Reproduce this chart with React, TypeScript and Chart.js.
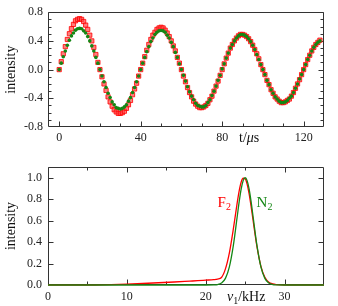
import React, { useEffect, useRef } from "react";
import { Chart, registerables } from "chart.js";
Chart.register(...registerables);

const SERIF = '"Liberation Serif", "DejaVu Serif", serif';

// ---- Top panel: time domain ----
const timeUs = [
  0, 1, 2, 3, 4, 5, 6, 7, 8, 9,
  10, 11, 12, 13, 14, 15, 16, 17, 18, 19,
  20, 21, 22, 23, 24, 25, 26, 27, 28, 29,
  30, 31, 32, 33, 34, 35, 36, 37, 38, 39,
  40, 41, 42, 43, 44, 45, 46, 47, 48, 49,
  50, 51, 52, 53, 54, 55, 56, 57, 58, 59,
  60, 61, 62, 63, 64, 65, 66, 67, 68, 69,
  70, 71, 72, 73, 74, 75, 76, 77, 78, 79,
  80, 81, 82, 83, 84, 85, 86, 87, 88, 89,
  90, 91, 92, 93, 94, 95, 96, 97, 98, 99,
  100, 101, 102, 103, 104, 105, 106, 107, 108, 109,
  110, 111, 112, 113, 114, 115, 116, 117, 118, 119,
  120, 121, 122, 123, 124, 125, 126, 127, 128,
];

const f2Time = [
  0, 0.11, 0.22, 0.32, 0.42, 0.5, 0.57, 0.63, 0.68, 0.7,
  0.71, 0.7, 0.67, 0.62, 0.56, 0.48, 0.4, 0.31, 0.21, 0.1,
  0, -0.1, -0.2, -0.29, -0.38, -0.45, -0.51, -0.56, -0.59, -0.61,
  -0.61, -0.6, -0.58, -0.54, -0.49, -0.43, -0.35, -0.27, -0.19, -0.09,
  0, 0.09, 0.18, 0.27, 0.35, 0.42, 0.48, 0.52, 0.56, 0.58,
  0.59, 0.58, 0.55, 0.51, 0.46, 0.4, 0.33, 0.26, 0.17, 0.09,
  0, -0.09, -0.17, -0.25, -0.32, -0.38, -0.44, -0.48, -0.51, -0.53,
  -0.53, -0.52, -0.5, -0.47, -0.42, -0.37, -0.3, -0.23, -0.16, -0.08,
  0, 0.08, 0.16, 0.23, 0.3, 0.35, 0.4, 0.44, 0.47, 0.49,
  0.49, 0.48, 0.46, 0.43, 0.39, 0.34, 0.28, 0.22, 0.15, 0.07,
  0, -0.07, -0.15, -0.21, -0.28, -0.33, -0.38, -0.41, -0.44, -0.46,
  -0.46, -0.45, -0.43, -0.41, -0.37, -0.32, -0.26, -0.2, -0.14, -0.07,
  0, 0.07, 0.14, 0.2, 0.26, 0.31, 0.35, 0.38, 0.41,
];

const n2Time = [
  0, 0.09, 0.18, 0.26, 0.34, 0.41, 0.47, 0.51, 0.55, 0.57,
  0.575, 0.57, 0.54, 0.51, 0.46, 0.4, 0.33, 0.26, 0.17, 0.09,
  0, -0.09, -0.17, -0.25, -0.33, -0.39, -0.45, -0.49, -0.53, -0.54,
  -0.55, -0.54, -0.52, -0.49, -0.44, -0.39, -0.32, -0.25, -0.17, -0.09,
  0, 0.09, 0.17, 0.25, 0.32, 0.39, 0.44, 0.49, 0.52, 0.54,
  0.545, 0.54, 0.52, 0.48, 0.44, 0.38, 0.32, 0.24, 0.17, 0.08,
  0, -0.08, -0.16, -0.24, -0.31, -0.37, -0.42, -0.47, -0.5, -0.51,
  -0.52, -0.52, -0.5, -0.46, -0.42, -0.36, -0.3, -0.23, -0.15, -0.08,
  0.01, 0.08, 0.16, 0.23, 0.3, 0.35, 0.4, 0.44, 0.47, 0.49,
  0.49, 0.48, 0.46, 0.43, 0.39, 0.34, 0.28, 0.21, 0.14, 0.07,
  0, -0.07, -0.15, -0.21, -0.28, -0.33, -0.38, -0.41, -0.44, -0.46,
  -0.46, -0.45, -0.43, -0.4, -0.37, -0.32, -0.26, -0.2, -0.13, -0.07,
  0, 0.07, 0.14, 0.2, 0.26, 0.31, 0.35, 0.38, 0.4,
];

const timeMajorTicks = [0, 40, 80, 120];
const timeMinorTicks = [10, 20, 30, 50, 60, 70, 90, 100, 110, 130];
const intensityMajorTicks = [-0.8, -0.4, 0, 0.4, 0.8];
const intensityMinorTicks = [-0.7, -0.6, -0.5, -0.3, -0.2, -0.1, 0.1, 0.2, 0.3, 0.5, 0.6, 0.7];

// ---- Bottom panel: spectrum ----
const specFreqKHz = [
  0, 2, 4, 6, 7, 8, 10, 12, 14, 16, 18, 19, 20, 21, 21.5, 22, 22.5, 23, 23.5,
  24, 24.25, 24.5, 24.75, 25, 25.25, 25.5, 25.75, 26, 26.5, 27, 27.5, 28, 28.5,
  29, 30, 32, 35,
];
const f2Spec = [
  0, 0, 0, 0, 0.001, 0.003, 0.008, 0.014, 0.021, 0.028, 0.036, 0.04, 0.045,
  0.05, 0.055, 0.07, 0.15, 0.3, 0.52, 0.77, 0.88, 0.96, 0.995, 0.99, 0.94,
  0.852, 0.736, 0.606, 0.357, 0.174, 0.072, 0.026, 0.01, 0.004, 0, 0, 0,
];
const n2Spec = [
  0, 0, 0, 0, 0, 0, 0, 0, 0, 0, 0, 0, 0, 0.001, 0.004, 0.018, 0.062, 0.169,
  0.367, 0.641, 0.779, 0.895, 0.973, 1.0, 0.973, 0.895, 0.779, 0.641, 0.367,
  0.169, 0.062, 0.018, 0.004, 0.001, 0, 0, 0,
];
const freqMajorTicks = [0, 10, 20, 30];
const freqMinorTicks = [5, 15, 25, 35];
const specMajorTicks = [0, 0.2, 0.4, 0.6, 0.8, 1.0];

const RED = "rgb(255,0,0)";
const GREEN = "rgb(20,135,20)";
const AXIS = "#333";

type Part = { t: string; size: number; italic?: boolean; dy?: number };
function drawRich(ctx: CanvasRenderingContext2D, x: number, y: number, parts: Part[], color: string) {
  ctx.save();
  ctx.fillStyle = color;
  ctx.textBaseline = "alphabetic";
  ctx.textAlign = "left";
  let cx = x;
  for (const p of parts) {
    ctx.font = `${p.italic ? "italic " : ""}${p.size}px ${SERIF}`;
    ctx.fillText(p.t, cx, y + (p.dy || 0));
    cx += ctx.measureText(p.t).width;
  }
  ctx.restore();
}

function drawFrame(
  chart: any,
  xMajor: number[], xMinor: number[], yMajor: number[], yMinor: number[],
  topTicks: boolean
) {
  const { ctx, chartArea: a, scales } = chart;
  const xs = scales.x, ys = scales.y;
  const L = Math.round(a.left) + 0.5;
  const R = Math.round(a.right) - 0.5;
  const T = Math.round(a.top) + 0.5;
  const B = Math.round(a.bottom) - 0.5;
  ctx.save();
  ctx.strokeStyle = AXIS;
  ctx.lineWidth = 1;
  ctx.beginPath();
  ctx.rect(L, T, R - L, B - T);
  const xt = (v: number, len: number) => {
    const p = Math.round(xs.getPixelForValue(v)) + 0.5;
    if (p < L - 0.1 || p > R + 0.1) return;
    ctx.moveTo(p, B); ctx.lineTo(p, B - len);
    if (topTicks) { ctx.moveTo(p, T); ctx.lineTo(p, T + len); }
  };
  const yt = (v: number, len: number) => {
    const p = Math.round(ys.getPixelForValue(v)) + 0.5;
    if (p < T - 0.1 || p > B + 0.1) return;
    ctx.moveTo(L, p); ctx.lineTo(L + len, p);
    ctx.moveTo(R, p); ctx.lineTo(R - len, p);
  };
  xMajor.forEach((v) => xt(v, 5));
  xMinor.forEach((v) => xt(v, 3));
  yMajor.forEach((v) => yt(v, 5));
  yMinor.forEach((v) => yt(v, 3));
  ctx.stroke();
  ctx.restore();
}

function drawYTitle(chart: any) {
  const { ctx, chartArea: a } = chart;
  ctx.save();
  ctx.translate(11, (a.top + a.bottom) / 2);
  ctx.rotate(-Math.PI / 2);
  ctx.fillStyle = "#111";
  ctx.font = `14px ${SERIF}`;
  ctx.textAlign = "center";
  ctx.textBaseline = "middle";
  ctx.fillText("intensity", 0, 0);
  ctx.restore();
}

const tickFont = { family: SERIF, size: 12 };

function TimePanel() {
  const ref = useRef<HTMLCanvasElement>(null);
  useEffect(() => {
    const framePlugin = {
      id: "frameTop",
      beforeDatasetsDraw(chart: any) {
        drawFrame(chart, timeMajorTicks, timeMinorTicks, intensityMajorTicks, intensityMinorTicks, false);
      },
      afterDraw(chart: any) {
        drawYTitle(chart);
        drawRich(chart.ctx, 239, 142, [
          { t: "t/", size: 14 },
          { t: "μ", size: 14, italic: true },
          { t: "s", size: 14 },
        ], "#111");
      },
    };
    const chart = new Chart(ref.current as HTMLCanvasElement, {
      type: "scatter",
      data: {
        datasets: [
          {
            label: "N2",
            data: timeUs.map((t, i) => ({ x: t, y: n2Time[i] })),
            pointStyle: "circle",
            pointRadius: 1.8,
            backgroundColor: GREEN,
            borderColor: GREEN,
            borderWidth: 0,
            order: 0,
          },
          {
            label: "F2",
            data: timeUs.map((t, i) => ({ x: t, y: f2Time[i] })),
            pointStyle: "rect",
            pointRadius: 3,
            backgroundColor: "rgba(255,70,70,0.7)",
            borderColor: RED,
            borderWidth: 0.8,
            order: 1,
          },
        ],
      },
      options: {
        animation: false,
        responsive: false,
        devicePixelRatio: 1,
        events: [],
        layout: { padding: { top: 9, right: 14, left: 0, bottom: 0 } },
        plugins: { legend: { display: false }, tooltip: { enabled: false } },
        scales: {
          x: {
            type: "linear",
            min: -5.5,
            max: 130,
            grid: { display: false, drawTicks: false },
            border: { display: false },
            afterBuildTicks: (s: any) => { s.ticks = timeMajorTicks.map((v) => ({ value: v })); },
            afterFit: (s: any) => { s.height = 23; },
            ticks: { padding: 4, color: "#222", font: tickFont, autoSkip: false, maxRotation: 0 },
          },
          y: {
            type: "linear",
            min: -0.8,
            max: 0.8,
            grid: { display: false, drawTicks: false },
            border: { display: false },
            afterBuildTicks: (s: any) => { s.ticks = intensityMajorTicks.map((v) => ({ value: v })); },
            afterFit: (s: any) => { s.width = 48; },
            ticks: {
              padding: 5, color: "#222", font: tickFont, autoSkip: false,
              callback: (v: any) => Number(v).toFixed(1),
            },
          },
        },
      },
      plugins: [framePlugin],
    } as any);
    return () => chart.destroy();
  }, []);
  return <canvas ref={ref} width={338} height={150} style={{ display: "block", width: 338, height: 150 }} />;
}

function SpectrumPanel() {
  const ref = useRef<HTMLCanvasElement>(null);
  useEffect(() => {
    const framePlugin = {
      id: "frameBottom",
      beforeDatasetsDraw(chart: any) {
        drawFrame(chart, freqMajorTicks, freqMinorTicks, specMajorTicks, [], true);
      },
      afterDraw(chart: any) {
        const { ctx, scales } = chart;
        drawYTitle(chart);
        drawRich(ctx, 227, 151, [
          { t: "ν", size: 14, italic: true },
          { t: "1", size: 10, dy: 3 },
          { t: "/kHz", size: 14 },
        ], "#111");
        const yLab = scales.y.getPixelForValue(0.73);
        drawRich(ctx, scales.x.getPixelForValue(21.5), yLab, [
          { t: "F", size: 15 },
          { t: "2", size: 10, dy: 3 },
        ], RED);
        drawRich(ctx, scales.x.getPixelForValue(26.45), yLab, [
          { t: "N", size: 15 },
          { t: "2", size: 10, dy: 3 },
        ], GREEN);
      },
    };
    const chart = new Chart(ref.current as HTMLCanvasElement, {
      type: "scatter",
      data: {
        datasets: [
          {
            label: "N2",
            data: specFreqKHz.map((f, i) => ({ x: f, y: n2Spec[i] })),
            showLine: true,
            pointRadius: 0,
            borderColor: GREEN,
            borderWidth: 1.3,
            cubicInterpolationMode: "monotone",
            clip: false,
            order: 0,
          },
          {
            label: "F2",
            data: specFreqKHz.map((f, i) => ({ x: f, y: f2Spec[i] })),
            showLine: true,
            pointRadius: 0,
            borderColor: RED,
            borderWidth: 1.3,
            cubicInterpolationMode: "monotone",
            clip: false,
            order: 1,
          },
        ],
      },
      options: {
        animation: false,
        responsive: false,
        devicePixelRatio: 1,
        events: [],
        layout: { padding: { top: 17, right: 14, left: 0, bottom: 0 } },
        plugins: { legend: { display: false }, tooltip: { enabled: false } },
        scales: {
          x: {
            type: "linear",
            min: 0,
            max: 35,
            grid: { display: false, drawTicks: false },
            border: { display: false },
            afterBuildTicks: (s: any) => { s.ticks = freqMajorTicks.map((v) => ({ value: v })); },
            afterFit: (s: any) => { s.height = 21; },
            ticks: { padding: 5, color: "#222", font: tickFont, autoSkip: false, maxRotation: 0 },
          },
          y: {
            type: "linear",
            min: 0,
            max: 1.1,
            grid: { display: false, drawTicks: false },
            border: { display: false },
            afterBuildTicks: (s: any) => { s.ticks = specMajorTicks.map((v) => ({ value: v })); },
            afterFit: (s: any) => { s.width = 48; },
            ticks: {
              padding: 6, color: "#222", font: tickFont, autoSkip: false,
              callback: (v: any) => Number(v).toFixed(1),
            },
          },
        },
      },
      plugins: [framePlugin],
    } as any);
    return () => chart.destroy();
  }, []);
  return <canvas ref={ref} width={338} height={156} style={{ display: "block", width: 338, height: 156 }} />;
}

export default function App() {
  return (
    <div style={{ position: "absolute", left: 0, top: 0, width: 338, height: 306, background: "#fff" }}>
      <TimePanel />
      <SpectrumPanel />
    </div>
  );
}
